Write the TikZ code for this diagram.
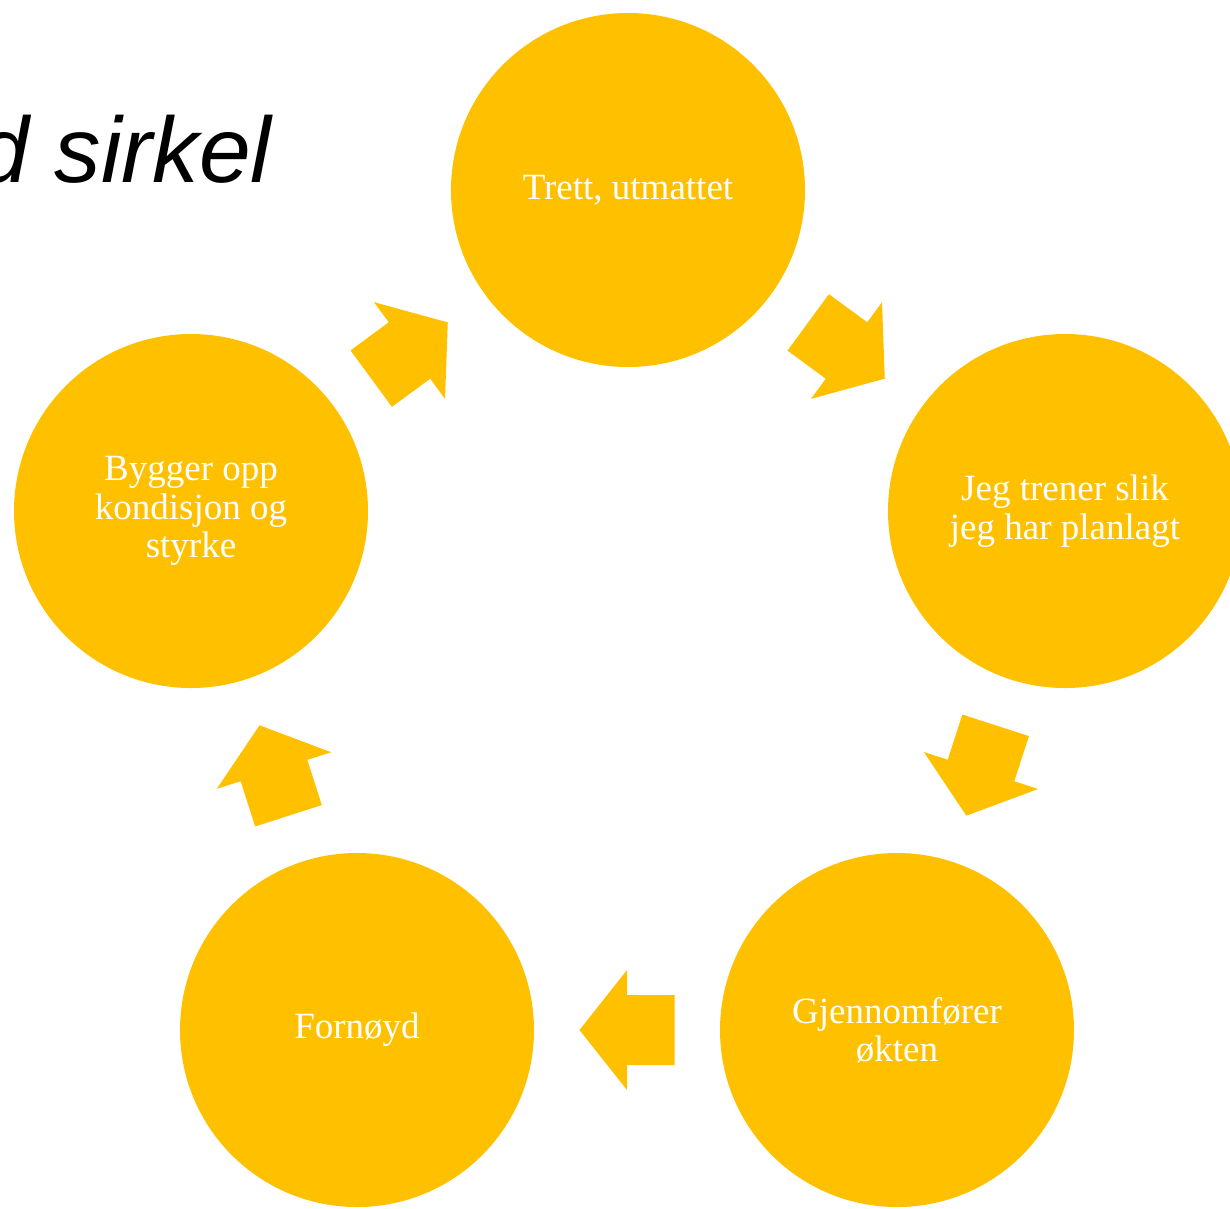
\documentclass[tikz,border=0pt]{standalone}
\usepackage{fontspec}
\setmainfont{Liberation Serif}
\newfontfamily\titlefont{Liberation Sans}
\usetikzlibrary{calc}
\definecolor{gold}{HTML}{FFC000}
\newcommand\cycarrow[2]{\path let \p1=($(#2)-(#1)$), \n1={atan2(\y1,\x1)} in pic[rotate=\n1] at ($(#1)!0.5!(#2)$) {cyc};}
\begin{document}
\begin{tikzpicture}[x=1pt,y=-1pt,
  stage/.style={circle, fill=gold, minimum size=354pt, inner sep=0pt, text=white,
    font=\fontsize{37}{38.5}\selectfont, align=center},
  cyc/.pic={\fill[gold] (-47.5,-35) -- (0,-35) -- (0,-60) -- (47.5,0) -- (0,60) -- (0,35) -- (-47.5,35) -- cycle;}
]
\useasboundingbox (0,0) rectangle (1230,1208);
\node[anchor=base west, inner sep=0pt, font=\titlefont\itshape\fontsize{93}{100}\selectfont] (title) at (-23,182) {d sirkel};
\node[stage] (top) at (628,190) {Trett, utmattet};
\node[stage] (right) at (1065,511) {Jeg trener slik\\jeg har planlagt};
\node[stage] (br) at (897,1030) {Gjennomfører\\økten};
\node[stage] (bl) at (357,1030) {Fornøyd};
\node[stage] (left) at (191,511) {Bygger opp\\kondisjon og\\styrke};
\cycarrow{top}{right}
\cycarrow{right}{br}
\cycarrow{br}{bl}
\cycarrow{bl}{left}
\cycarrow{left}{top}
\end{tikzpicture}
\end{document}
